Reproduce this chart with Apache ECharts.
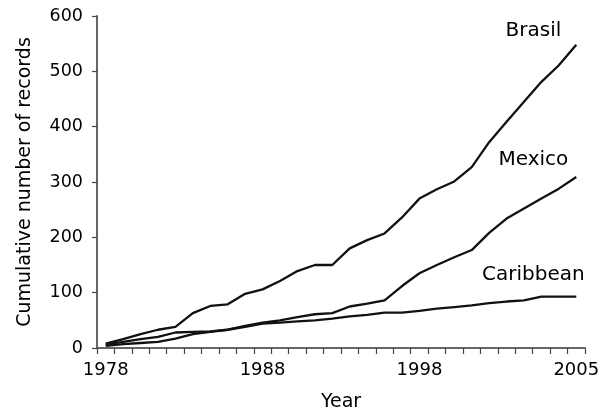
<!DOCTYPE html>
<html>
<head>
<meta charset="utf-8">
<script src="https://cdn.jsdelivr.net/npm/echarts@6/dist/echarts.min.js"></script>
<style>
html,body{margin:0;padding:0;background:#fff;}
#c{width:610px;height:417px;}
</style>
</head>
<body>
<div id="c"></div>
<script>
const years = ['1978','1979','1980','1981','1982','1983','1984','1985','1986','1987',
  '1988','1989','1990','1991','1992','1993','1994','1995','1996','1997',
  '1998','1999','2000','2001','2002','2003','2004','2005'];
const xTickLabels = ['1978','1988','1998','2005'];
const yTicks = [0,100,200,300,400,500,600];

const brasil = [8,16,25,33,38,63,76,79,98,106,121,139,150,150,180,195,207,236,270,287,301,327,372,409,445,481,511,548];
const mexico = [4,7,9,11,17,25,29,33,40,46,50,56,61,63,75,80,86,112,135,150,164,177,208,234,252,270,288,309];
const caribbean = [6,11,16,20,28,29,30,33,38,44,46,48,50,53,57,60,64,64,67,71,74,77,81,84,86,93,93,93];

const seriesNames = ['Brasil','Mexico','Caribbean'];
const labelValues = [573,340,132];
const labelYear = '2003';

const FONT = 'DejaVu Sans';
const chart = echarts.init(document.getElementById('c'), null, {renderer:'canvas'});

function mkSeries(name, data, labelVal){
  return {
    name: name,
    type: 'line',
    data: data,
    symbol: 'none',
    smooth: false,
    lineStyle: {color:'#111', width:2.3},
    animation: false,
    markPoint: {
      symbol: 'circle',
      symbolSize: 0,
      silent: true,
      data: [{coord:[labelYear, labelVal], value:name}],
      label: {
        show: true,
        position: 'inside',
        offset: [-8, 0],
        formatter: name,
        color: '#000',
        fontFamily: FONT,
        fontSize: 20
      }
    }
  };
}

chart.setOption({
  backgroundColor: '#fff',
  animation: false,
  grid: {left: 97, right: 25, top: 16, bottom: 69, containLabel: false},
  xAxis: {
    type: 'category',
    data: years,
    boundaryGap: true,
    name: 'Year',
    nameLocation: 'middle',
    nameGap: 45,
    nameTextStyle: {color:'#000', fontFamily: FONT, fontSize: 19},
    axisLine: {lineStyle: {color:'#666', width:2}},
    axisTick: {show:true, interval:0, alignWithLabel:false, length:6, lineStyle:{color:'#444', width:1.2}},
    axisLabel: {
      interval: 8,
      margin: 13,
      color:'#000', fontFamily: FONT, fontSize: 18,
      formatter: function(v, idx){ return xTickLabels[Math.round(idx/9)] || ''; }
    },
    splitLine: {show:false}
  },
  yAxis: {
    type: 'value',
    min: yTicks[0],
    max: yTicks[yTicks.length-1],
    interval: 100,
    name: 'Cumulative number of records',
    nameLocation: 'middle',
    nameGap: 62,
    nameRotate: 90,
    nameTextStyle: {color:'#000', fontFamily: FONT, fontSize: 19},
    axisLine: {show:true, lineStyle: {color:'#666', width:2}},
    axisTick: {show:true, length:5, lineStyle:{color:'#444', width:1.2}},
    axisLabel: {margin: 14, color:'#000', fontFamily: FONT, fontSize: 17.5},
    splitLine: {show:false}
  },
  series: [
    mkSeries(seriesNames[0], brasil, labelValues[0]),
    mkSeries(seriesNames[1], mexico, labelValues[1]),
    mkSeries(seriesNames[2], caribbean, labelValues[2])
  ]
});
</script>
</body>
</html>
